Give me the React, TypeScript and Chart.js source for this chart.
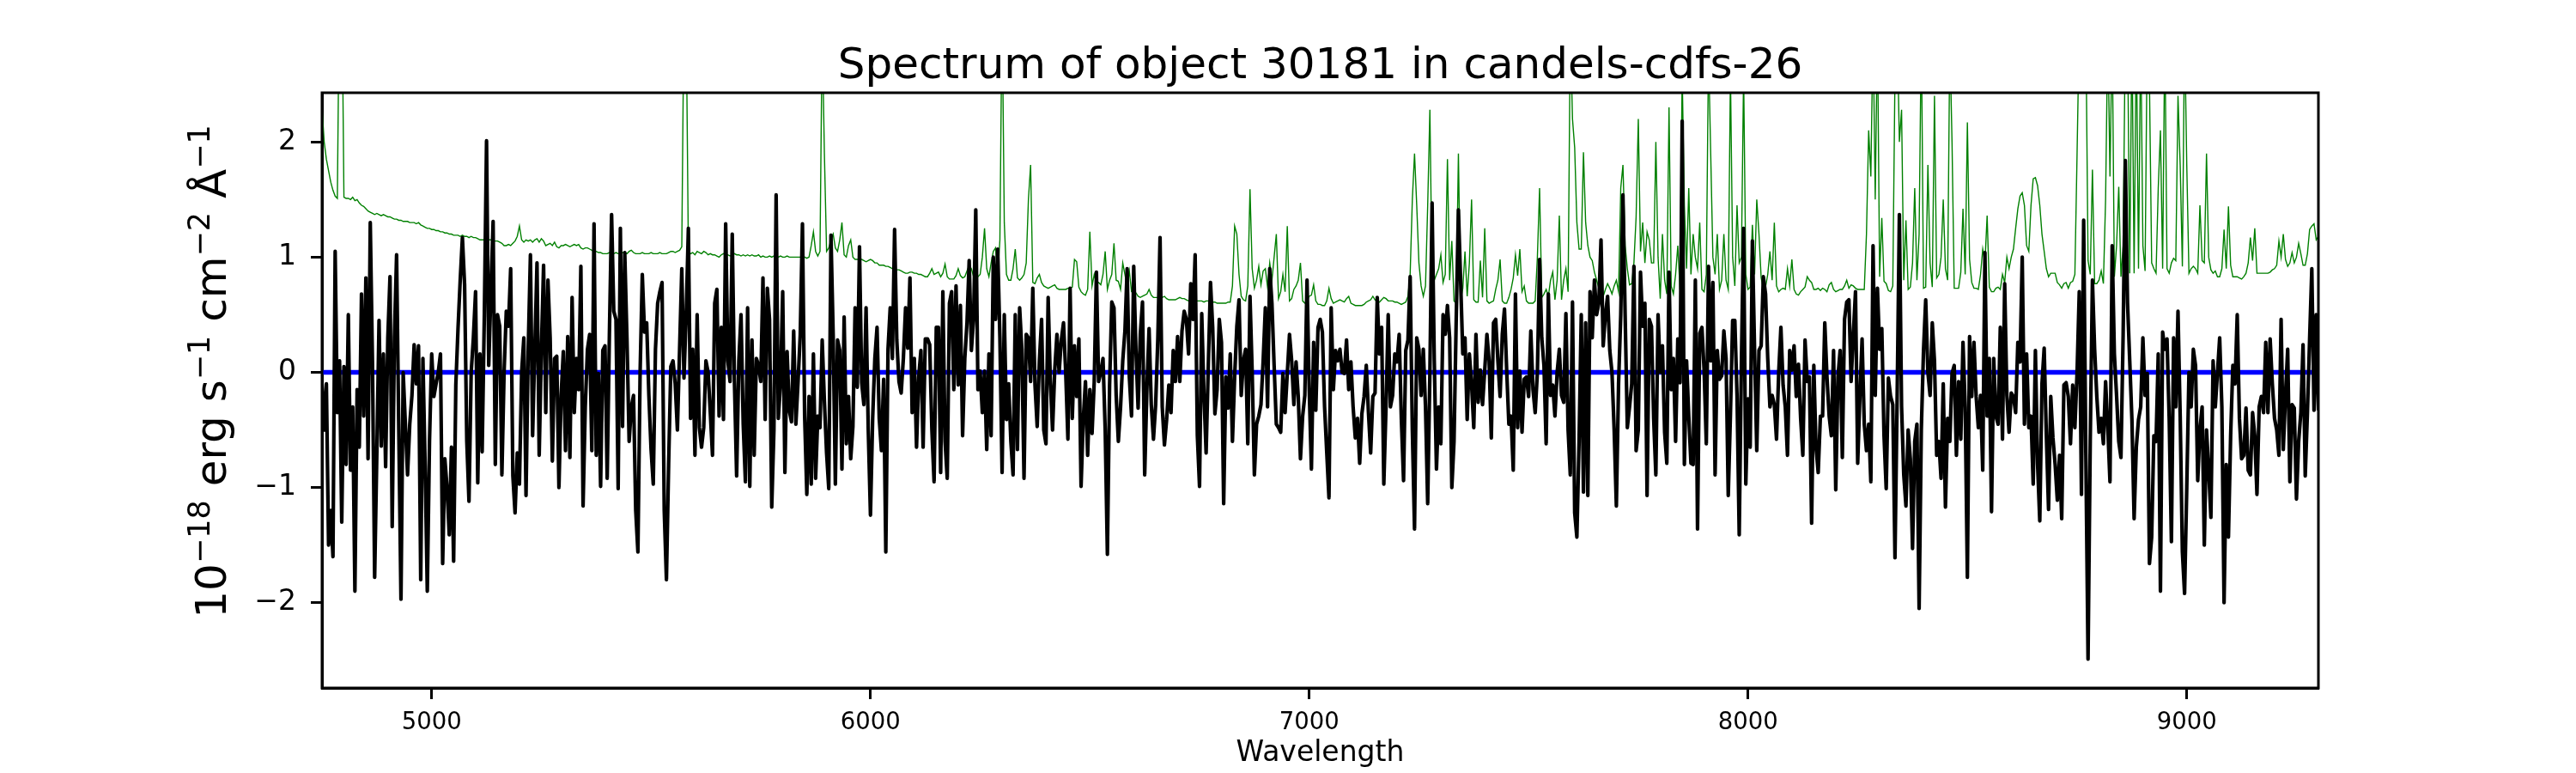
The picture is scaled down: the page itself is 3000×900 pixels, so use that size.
import { useEffect, useRef } from "react"
import { Chart, registerables, type Plugin } from "chart.js"

Chart.register(...registerables)

const FONT = "'DejaVu Sans', sans-serif"
const TITLE = "Spectrum of object 30181 in candels-cdfs-26"
const X_LABEL = "Wavelength"

const WAVE_MIN = 4750
const WAVE_MAX = 9300
const WAVE_STEP = 5
const FLUX_MIN = -2.74
const FLUX_MAX = 2.427

const X_TICKS = [5000, 6000, 7000, 8000, 9000]
const Y_TICKS = [-2, -1, 0, 1, 2]

// flux (black) on a 5 A grid, one array per stretch
const FLUX_4750 = [
  -0.1, -0.5, -0.1, -1.5, -1.2, -1.6, 1.05, -0.35, 0.1, -1.3,
  0.05, -0.8, 0.5, -0.85, -0.3, -1.9, -0.15, -0.65, 0.68, -0.38,
  0.82, -0.75, 1.3, 0.1, -1.78, -0.7, 0.45, -0.64, 0.16, -0.82,
  0.3, 0.83, -1.34, 0.3, 1.02, -0.5, -1.97, 0.0, -0.45, -0.89,
  -0.45, -0.2, 0.24, -0.1, 0.23, -1.8, 0.12, -0.8, -1.9, -0.6,
  0.16, -0.21, -0.1, 0.0, 0.16, -1.66, -0.75, -1.0, -1.41, -0.65,
  -1.64, -0.11, 0.38, 0.8, 1.17, 0.76, -0.6, -1.12, 0.0, 0.3,
  0.7, -0.96, 0.16, -0.69, 0.5, 2.01, 0.06, 0.7, 1.31, -0.8,
  0.5, 0.4, -0.89, 0.0, 0.53, 0.4, 0.9, -0.9, -1.22, -0.7,
  -0.97, 0.0, 0.3, -1.07, 0.2, 1.02, -0.55, 0.2, 0.95, -0.72,
  0.2, 0.93, -0.35, 0.8,
]
const FLUX_5270 = [
  0.3, -0.77, 0.12, 0.14, -1.0, -0.2, 0.18, -0.68, 0.31, -0.74,
  0.65, -0.35, 0.12, -0.15, 0.92, -1.16, -0.3, 0.2, 0.33, -0.68,
  1.29, -0.72, -0.01, -0.99, 0.19, 0.23, -0.92, 0.33, 1.37, 0.53,
  0.46, -1.01, 1.25, -0.47, 1.04, 0.3, -0.6, -0.3, -0.2, -1.2,
  -1.56, 0.0, 0.85, 0.35, 0.43, -0.2, -0.67, -0.97, 0.2, 0.6,
  0.7, 0.78, -1.2, -1.8, -0.8, 0.05, 0.1, -0.1, -0.5, 0.2,
  0.9, -0.05, 0.5, 1.25, -0.4, 0.2, -0.72, 0.5, -0.48, -0.65,
  -0.48, 0.1, 0.0, -0.35, -0.72, 0.6, 0.72, -0.38, 0.39, -0.41,
  1.29, 0.1, -0.08, 1.2, -0.08, -0.9, 0.1, 0.5, -0.45, -0.95,
  0.56, -0.99, 0.28, -0.72, 0.12, 0.06, -0.08, 0.82, -0.41, 0.73,
  0.46, -1.17,
]
const FLUX_5780 = [
  -0.5, 1.54, -0.4, -0.1, 0.7, -0.87, 0.18, -0.33, -0.43, 0.36,
  -0.45, -0.08, 0.33, 1.29, -0.38, -1.06, -0.21, -0.97, 0.16, -0.92,
  -0.38, -0.48, 0.28, -0.25, -0.7, -1.01, 1.19, 0.33, -0.97, 0.28,
  0.19, -0.84, 0.48, -0.62, -0.21, -0.75, -0.47, 0.56, -0.13, 1.09,
  -0.09, -0.28, 0.56, -0.5, -1.24, -0.4, 0.12, 0.39, -0.4, -0.68,
  -0.06, -1.56, 0.2, 0.56, 0.12, 1.24, 0.28, -0.08, -0.18, 0.12,
  0.56, 0.21, 0.82, -0.35, 0.12, -0.65, -0.04, 0.19, -0.65, 0.29,
  0.29, 0.24, -0.5, -0.95, 0.39, 0.39, -0.87, 0.7, -0.6, -0.92,
  0.6, 0.7, -0.15, 0.75, -0.11, 0.58, -0.55, 0.12, 0.43, 0.97,
  0.19, 0.46, 1.41, -0.15, 0.01, -0.35, 0.01, -0.67, 0.16, -0.55,
  1.0, 0.46, 1.07, 0.3, -0.87, 0.5, -0.41, -0.1, -0.6, -0.89,
  0.5, -0.67, 0.56, 0.2, -0.92, 0.33, 0.3,
]
const FLUX_6365 = [
  -0.08, 0.73, -0.11, -0.47, 0.1, 0.46, -0.5, -0.62, 0.65, -0.08,
  -0.5, 0.02, 0.33, 0.0, 0.28, 0.43, 0.0, -0.58, 0.73, -0.4,
  0.23, -0.21, 0.29, -0.99, -0.41, -0.08, -0.72, -0.15, -0.53, -0.08,
  0.87, -0.08, 0.0, 0.12, -0.5, -1.58, -0.11, 0.61, 0.56, -0.2,
  -0.6, -0.3, 0.1, 0.36, 0.9, -0.04, -0.38, 0.92, 0.2, -0.31,
  0.33, 0.61, -0.89, -0.15, 0.38, -0.28, -0.58, -0.28, 0.3, 1.17,
  -0.3, -0.63, -0.41, -0.11, -0.35, 0.19, -0.08, 0.31, -0.08, 0.36,
  0.53, 0.46, 0.16, 0.77, 0.46, 1.02, -0.55, -0.99, 0.51, -0.18,
  -0.7, 0.06, 0.78, 0.39, -0.36, -0.15, 0.46, 0.26, -1.14, -0.04,
  -0.31, 0.16, -0.6, -0.04, 0.4, 0.63,
]
const FLUX_6845 = [
  -0.2, 0.1, 0.2, -0.62, 0.66, 0.0, -0.89, -0.45, -0.38, -0.28,
  0.1, 0.56, -0.3, 0.9, 0.6, 0.06, -0.45, -0.48, -0.52, -0.01,
  -0.35, -0.01, 0.33, 0.1, -0.28, 0.09, -0.21, -0.75, -0.38, -0.2,
  0.8, -0.15, -0.84, 0.26, -0.33, 0.39, 0.46, 0.35, -0.3, -0.7,
  -1.09, 0.56, -0.15, 0.19, 0.1, 0.2, 0.0, -0.01, 0.28, -0.15,
  0.09, -0.3, -0.57, -0.4, -0.79, -0.36, -0.21, 0.06, -0.35, -0.7,
  -0.21, -0.18, 0.65, 0.16, 0.39, -0.97, -0.3, 0.5, -0.3, -0.2,
  0.16, 0.09, 0.33, -0.41, -0.94, 0.19, 0.28, 0.83, -0.5, -1.36,
  0.3, 0.2, -0.2, 0.2, -0.3, -1.14, 0.0, 1.47, 0.1, -0.84,
  -0.3, -0.62, 0.5, 0.33, 0.58, 0.3,
]
const FLUX_7325 = [
  -1.0, -0.6, 0.46, 1.41, 0.8, 0.16, 0.3, -0.41, 0.16, -0.1,
  -0.48, 0.33, -0.26, 0.02, -0.28, 0.02, 0.33, 0.1, -0.57, 0.43,
  0.46, 0.1, -0.21, 0.33, 0.55, 0.02, -0.45, -0.38, -0.85, 0.68,
  -0.48, 0.01, -0.52, -0.06, -0.04, -0.21, 0.36, -0.15, -0.35, 0.0,
  0.98, 0.3, 0.06, -0.62, 0.68, -0.2, -0.11, -0.38, 0.0, 0.2,
  -0.2, -0.26, 0.51, -0.5, -0.89, 0.61, -1.22, -1.43, -0.6, 0.5,
  -1.04, 0.43, -1.07, 0.7, 0.3, 0.8, 0.5, 0.6, 1.15, 0.23,
  0.5, 0.66, 0.19, 0.0, -0.5, -1.16, -0.1, 0.5, 1.54, 0.5,
  -0.48, -0.3, -0.1, 0.92, -0.68, -0.5, 0.87, 0.4, 0.6, -1.07,
  0.46, 0.4, -0.4, -0.89, 0.5, 0.0,
]
const FLUX_7805 = [
  0.23, -0.52, -0.79, 0.87, -0.15, 0.12, -0.6, 0.29, -0.09, 2.18,
  -0.8, 0.1, -0.38, -0.79, -0.8, 0.8, -1.36, 0.34, 0.39, 0.02,
  -0.62, 0.92, 0.1, 0.78, -0.89, 0.19, -0.06, -0.03, 0.36, 0.12,
  -1.07, -0.36, 0.45, 0.45, -0.2, -1.41, 0.1, 1.25, -0.97, -0.23,
  -0.65, 1.14, 0.19, -0.68, 0.19, 0.23, 0.83, 0.68, 0.12, -0.3,
  -0.2, -0.28, -0.58, 0.0, 0.39, -0.11, -0.3, -0.72, 0.19, 0.02,
  0.23, -0.21, 0.07, -0.4, -0.72, 0.28, -0.08, -0.04, -1.31, 0.06,
  -0.65, -0.87, -0.38, -0.38, 0.43, -0.04, -0.38, -0.55, 0.19, -1.02,
  -0.04, 0.19, -0.74, 0.46, 0.61, 0.63, -0.08, 0.33, 0.7, -0.79,
  -0.21, 0.29, -0.45, -0.68, -0.45, -0.95,
]
const FLUX_8285 = [
  1.1, -0.2, 0.73, 0.2, 0.38, -0.55, -1.01, -0.05, -0.21, -0.28,
  -1.61, -0.2, 1.37, -0.3, -0.89, -1.16, -0.5, -0.75, -1.53, -0.6,
  -0.45, -2.05, -0.5, 0.19, 0.63, 0.0, -0.2, 0.43, 0.1, -0.72,
  -0.6, -0.92, -0.1, -1.17, -0.4, -0.6, -0.01, 0.06, -0.72, -0.08,
  -0.58, 0.26, -0.3, -1.78, 0.31, -0.21, 0.26, -0.21, -0.48, -0.2,
  -0.85, 1.04, -0.38, 0.12, -1.21, 0.12, -0.38, -0.45, 0.39, -0.58,
  0.77, -0.2, -0.52, -0.18, -0.21, -0.35, 0.26, 0.09, 1.0, -0.45,
  0.16, -0.48, -0.38, -0.97, 0.19, -0.8, -1.29, -0.1, 0.21, -0.55,
  -1.19, -0.21, -0.57, -0.8, -1.11, -0.72, -1.27, -0.11, -0.09, -0.21,
  -0.62, -0.11, -0.48, 0.0, 0.7, -1.06,
]
const FLUX_8765 = [
  1.32, -0.72, -2.49, -0.6, 0.8, 0.2, -0.21, -0.52, -0.4, -0.62,
  -0.08, -0.48, -0.95, 1.1, 0.16, -0.2, -0.6, -0.74, 0.33, 1.84,
  0.6, 0.1, -0.41, -1.27, -0.65, -0.41, -0.3, 0.3, -0.2, -0.01,
  -1.66, -1.43, -0.55, -0.6, 0.16, -1.9, 0.35, 0.2, 0.29, -0.41,
  -1.47, 0.3, -0.3, 0.53, -0.38, -1.56, -1.92, -1.0, 0.0, -0.3,
  0.2, 0.06, -0.94, -0.5, -0.3, -1.5, -0.5, -0.85, -1.26, 0.1,
  -0.3, 0.0, 0.3, -0.3, -2.0, -0.8, -1.43, -0.55, 0.06, -0.1,
  0.5, -0.4, -0.75, -0.72, -0.31, -0.85, -0.89, -0.35, -0.55, -1.06,
  -0.3, -0.21, -0.35, 0.26, -0.35, 0.29, -0.1, -0.4, -0.5, -0.72,
  0.46, -0.67, -0.2, 0.2, -0.95, -0.28, -0.31, -1.1, -0.6, -0.35,
  0.24, -0.9, -0.35, 0.29, 0.9, -0.33, 0.5, -0.33,
]

// error spectrum (green), same grid; sky lines run off the top
const ERR_4750 = [
  2.3, 2.0, 1.85, 1.75, 1.65, 1.58, 1.53, 1.51, 3.5, 3.5,
  1.52, 1.51, 1.51, 1.5, 1.52, 1.49, 1.5, 1.47, 1.45, 1.44,
  1.42, 1.4, 1.39, 1.38, 1.37, 1.38, 1.37, 1.36, 1.37, 1.36,
  1.35, 1.35, 1.34, 1.33, 1.33, 1.32, 1.32, 1.31, 1.31, 1.31,
  1.3, 1.3, 1.3, 1.29, 1.3, 1.28, 1.27, 1.26, 1.25, 1.25,
  1.24, 1.24, 1.23, 1.23, 1.22, 1.22, 1.21, 1.21, 1.2, 1.2,
  1.19, 1.19, 1.19, 1.18, 1.19, 1.18, 1.18, 1.17, 1.18, 1.17,
  1.17, 1.16, 1.15, 1.15, 1.15, 1.15, 1.15, 1.15, 1.14, 1.14,
  1.14, 1.13, 1.12, 1.1, 1.1, 1.11, 1.1, 1.12, 1.14, 1.18,
  1.27, 1.15, 1.13, 1.15, 1.14, 1.15, 1.13, 1.15, 1.16, 1.13,
  1.16, 1.14, 1.1, 1.11,
]
const ERR_5270 = [
  1.12, 1.1, 1.13, 1.09, 1.08, 1.1, 1.1, 1.11, 1.1, 1.09, 1.1,
  1.11, 1.1, 1.11, 1.08, 1.07, 1.08, 1.08, 1.07, 1.06, 1.05,
  1.05, 1.04, 1.04, 1.03, 1.03, 1.03, 1.04, 1.03, 1.03, 1.04,
  1.03, 1.03, 1.04, 1.04, 1.03, 1.05, 1.06, 1.04, 1.03, 1.03,
  1.03, 1.04, 1.03, 1.03, 1.03, 1.04, 1.03, 1.03, 1.03, 1.04,
  1.03, 1.03, 1.03, 1.04, 1.05, 1.05, 1.04, 1.05, 1.06, 1.09,
  3.2, 3.1,
  1.05, 1.03, 1.04, 1.02, 1.05, 1.04, 1.03, 1.05, 1.04, 1.02,
  1.03, 1.02, 1.02, 1.01, 1.0, 1.02, 1.03, 1.02, 1.02, 1.01,
  1.02, 1.03, 1.02, 1.02, 1.01, 1.02, 1.01, 1.02, 1.01, 1.02,
  1.01, 1.01, 1.02, 1.0, 1.01, 1.0, 1.0, 1.01, 1.0,
]
const ERR_5780 = [
  1.01, 1.01, 1.0, 1.01, 1.0, 1.0, 1.01, 1.0, 1.0, 1.0,
  1.0, 1.0, 1.0, 0.99, 1.0, 0.99, 1.0, 1.1, 1.22, 1.05,
  1.01, 1.05, 3.0, 1.9, 1.05, 1.08, 1.15, 1.2, 1.08, 1.05,
  1.15, 1.3, 1.02, 1.0, 1.1, 1.15, 1.0, 0.98, 0.98, 0.98,
  0.98, 0.97, 0.96, 0.97, 0.98, 0.97, 0.95, 0.95, 0.93, 0.93,
  0.93, 0.92, 0.92, 0.91, 0.9, 0.9, 0.89, 0.89, 0.88, 0.87,
  0.86, 0.86, 0.87, 0.87, 0.86, 0.86, 0.85, 0.85, 0.84, 0.83,
  0.83, 0.86, 0.9, 0.85, 0.86, 0.87, 0.83, 0.86, 0.94, 0.83,
  0.81, 0.81, 0.81, 0.84, 0.9, 0.84, 0.82, 0.83, 0.88, 0.93,
  0.9, 0.83, 0.86, 0.83, 0.85, 1.0, 1.25, 0.9, 0.83, 0.95,
  1.05, 1.08, 0.83, 1.15, 3.2, 1.3, 0.85, 0.8, 0.8, 0.9,
  1.07, 0.82, 0.8, 0.82, 0.85, 0.95, 1.5,
]
const ERR_6365 = [
  1.8, 0.78, 0.77, 0.82, 0.85, 0.78, 0.75, 0.74, 0.73, 0.74,
  0.75, 0.76, 0.73, 0.72, 0.72, 0.72, 0.72, 0.73, 0.73, 0.74,
  0.98, 0.96, 0.74, 0.7, 0.68, 0.67, 0.72, 1.22, 0.75, 0.85,
  0.77, 0.78, 0.76, 0.85, 1.05, 0.72, 0.8, 0.85, 1.12, 0.8,
  0.79, 0.72, 0.95, 0.85, 0.74, 0.88, 0.7, 0.7, 0.69, 0.66,
  0.65, 0.66, 0.67, 0.68, 0.72, 0.67, 0.65, 0.65, 0.65, 0.64,
  0.65, 0.66, 0.64, 0.63, 0.63, 0.63, 0.63, 0.64, 0.65, 0.64,
  0.64, 0.63, 0.62, 0.62, 0.62, 0.62, 0.62, 0.62, 0.62, 0.61,
  0.62, 0.62, 0.61, 0.61, 0.61, 0.6, 0.6, 0.6, 0.6, 0.6,
  0.61, 0.61, 0.75, 1.27, 1.2, 0.85,
]
const ERR_6845 = [
  0.66, 0.63, 0.62, 0.75, 1.59, 0.9, 0.73, 0.8, 0.92, 0.76,
  0.88, 0.9, 0.74, 0.95, 0.8, 1.0, 1.2, 0.64, 0.7, 0.85,
  0.7, 1.27, 0.62, 0.64, 0.72, 0.75, 0.8, 0.95, 0.62, 0.6,
  0.62, 0.66, 0.67, 0.76, 0.62, 0.59, 0.59, 0.58, 0.58, 0.62,
  0.73, 0.64, 0.6, 0.61, 0.62, 0.63, 0.62, 0.61, 0.64, 0.66,
  0.6, 0.59, 0.58, 0.58, 0.58, 0.58, 0.59, 0.61, 0.62, 0.63,
  0.66, 0.63, 0.61, 0.61, 0.63, 0.65, 0.64, 0.62, 0.62, 0.62,
  0.61, 0.61, 0.6, 0.59, 0.6, 0.61, 0.66, 0.85, 1.5, 1.9,
  1.45, 0.95, 0.75, 0.66, 0.75, 1.45, 2.28, 0.8, 0.8, 0.85,
  0.9, 1.02, 0.78, 0.85, 1.85, 0.8,
]
const ERR_7325 = [
  1.14, 0.62, 0.6, 1.9, 0.62, 0.73, 1.05, 0.66, 0.95, 1.5,
  0.63, 0.61, 0.61, 0.97, 0.65, 1.25, 0.62, 0.6, 0.61, 0.62,
  0.72, 0.8, 0.98, 0.62, 0.6, 0.6, 0.65, 0.72, 0.82, 1.02,
  0.84, 1.07, 0.7, 0.75, 0.62, 0.6, 0.6, 0.6, 0.62, 1.0,
  1.6, 0.65, 0.68, 0.72, 0.66, 0.8, 0.87, 0.63, 0.8, 1.36,
  0.63, 0.8, 0.9, 0.7, 3.0, 2.2, 1.95, 1.3, 1.07, 1.07,
  1.91, 1.3, 1.1, 1.0, 0.97, 0.87, 0.8, 0.73, 0.65, 0.66,
  0.72, 0.77, 0.73, 0.68, 0.75, 0.8, 0.7, 1.6, 1.8, 1.1,
  0.9, 0.76, 0.77, 0.95, 1.35, 2.2, 1.05, 1.3, 0.95, 1.22,
  1.15, 0.95, 0.95, 2.0, 1.0, 0.64,
]
const ERR_7805 = [
  1.2, 0.8, 0.68, 2.3, 0.75, 0.68, 0.85, 1.1, 0.72, 2.6,
  1.45, 0.9, 1.6, 0.85, 1.2, 1.0, 0.9, 1.3, 0.72, 0.7,
  0.85, 2.8, 1.9, 1.0, 0.85, 1.2, 0.72, 0.8, 1.2, 0.8,
  0.72, 2.6, 1.0, 0.75, 1.45, 0.95, 1.0, 2.6, 0.85, 0.72,
  0.74, 1.28, 0.85, 1.5, 1.2, 0.82, 0.72, 0.74, 0.85, 1.05,
  0.8, 1.3, 0.75, 0.7, 0.72, 0.73, 0.72, 0.9, 0.75, 0.98,
  0.72, 0.68, 0.67, 0.7, 0.72, 0.74, 0.83, 0.8, 0.78, 0.72,
  0.72, 0.73, 0.71, 0.73, 0.72, 0.7, 0.76, 0.78, 0.72, 0.7,
  0.71, 0.72, 0.72, 0.75, 0.8, 0.73, 0.76, 0.75, 0.73, 0.72,
  0.72, 0.72, 0.72, 1.2, 2.1, 1.7,
]
const ERR_8285 = [
  3.0, 1.5, 3.0, 0.83, 1.34, 0.79, 0.77, 0.71, 0.7, 0.75,
  2.6, 3.0, 2.0, 2.28, 0.8, 1.32, 0.72, 0.74, 0.95, 1.6,
  0.8, 1.2, 3.0, 0.73, 0.74, 1.8, 0.95, 0.74, 2.4, 0.82,
  0.85, 1.0, 1.5, 0.9, 0.8, 2.9, 2.0, 0.73, 0.73, 0.73,
  0.87, 1.42, 0.85, 2.17, 0.98, 0.78, 0.73, 0.73, 0.72, 0.85,
  1.07, 0.95, 1.36, 0.74, 0.7, 0.7, 0.73, 0.74, 0.72, 0.85,
  0.78, 1.0, 0.9, 1.0, 1.07, 1.25, 1.42, 1.53, 1.56, 1.45,
  1.1, 1.05, 1.45, 1.68, 1.69, 1.62, 1.45, 1.2, 1.05, 0.9,
  0.83, 0.86, 0.86, 0.86, 0.78, 0.76, 0.73, 0.77, 0.78, 0.73,
  0.78, 0.79, 0.85, 1.9, 3.0, 3.0,
]
const ERR_8765 = [
  3.0, 3.0, 0.97, 0.85, 1.76, 0.77, 0.77, 0.8, 0.88, 0.77,
  1.5, 3.0, 1.7, 3.0, 0.83, 1.1, 1.61, 0.83, 1.1, 3.0,
  3.0, 0.86, 3.0, 0.86, 3.0, 0.9, 3.0, 1.1, 0.88, 3.0,
  2.5, 0.95, 0.9, 0.86, 1.6, 2.1, 0.9, 3.0, 0.9, 0.86,
  0.95, 0.99, 0.97, 2.4, 1.8, 0.92, 3.0, 1.8, 0.86, 0.9,
  0.92, 0.9, 0.86, 1.45, 0.97, 0.95, 1.9, 1.0, 0.89, 0.86,
  0.88, 0.83, 0.83, 0.9, 1.24, 0.9, 1.44, 0.93, 0.83, 0.83,
  0.83, 0.82, 0.81, 0.83, 0.86, 0.95, 1.17, 0.97, 1.25, 0.86,
  0.86, 0.86, 0.86, 0.86, 0.86, 0.87, 0.89, 0.9, 0.93, 1.14,
  1.0, 1.2, 0.98, 0.92, 0.95, 1.04, 0.95, 1.0, 1.12, 1.03,
  0.93, 0.93, 1.03, 1.24, 1.27, 1.29, 1.15, 1.18,
]

const FLUX_SEGMENTS: [number, number[]][] = [
  [4750, FLUX_4750], [5270, FLUX_5270], [5780, FLUX_5780],
  [6365, FLUX_6365], [6845, FLUX_6845], [7325, FLUX_7325],
  [7805, FLUX_7805], [8285, FLUX_8285], [8765, FLUX_8765],
]
const ERR_SEGMENTS: [number, number[]][] = [
  [4750, ERR_4750], [5270, ERR_5270], [5780, ERR_5780],
  [6365, ERR_6365], [6845, ERR_6845], [7325, ERR_7325],
  [7805, ERR_7805], [8285, ERR_8285], [8765, ERR_8765],
]

function toPoints(segments: [number, number[]][]) {
  const pts: { x: number; y: number }[] = []
  for (const [start, values] of segments) {
    values.forEach((v, i) => pts.push({ x: start + i * WAVE_STEP, y: v }))
  }
  return pts
}

// y label pieces: [text, superscript?]
const Y_LABEL: [string, boolean][] = [
  ["10", false], ["\u221218", true], [" erg s", false], ["\u22121", true],
  [" cm", false], ["\u22122", true], [" \u00c5", false], ["\u22121", true],
]

const mplDecor: Plugin<"line"> = {
  id: "mplDecor",
  afterDatasetsDraw(chart) {
    const { ctx, chartArea: a } = chart
    ctx.save()
    ctx.strokeStyle = "#000"
    ctx.lineWidth = 3
    ctx.strokeRect(a.left, a.top, a.right - a.left, a.bottom - a.top)
    ctx.restore()
  },
  afterDraw(chart) {
    const { ctx, chartArea: a } = chart
    const cx = (a.left + a.right) / 2
    ctx.save()
    ctx.fillStyle = "#000"
    ctx.textAlign = "center"
    ctx.textBaseline = "alphabetic"
    ctx.font = `50px ${FONT}`
    ctx.fillText(TITLE, cx, a.top - 17)
    ctx.font = `33px ${FONT}`
    ctx.fillText(X_LABEL, cx, a.bottom + 85)

    const base = 50
    const sup = base * 0.7
    const parts = Y_LABEL.map(([t, s]) => {
      ctx.font = `${s ? sup : base}px ${FONT}`
      return { t, s, w: ctx.measureText(t).width }
    })
    const total = parts.reduce((acc, p) => acc + p.w, 0)
    ctx.translate(263, (a.top + a.bottom) / 2 - 22)
    ctx.rotate(-Math.PI / 2)
    ctx.textAlign = "left"
    let x = -total / 2
    for (const p of parts) {
      ctx.font = `${p.s ? sup : base}px ${FONT}`
      ctx.fillText(p.t, x, p.s ? -19 : 0)
      x += p.w
    }
    ctx.restore()
  },
}

export default function App() {
  const canvasRef = useRef<HTMLCanvasElement>(null)
  const chartRef = useRef<Chart | null>(null)

  useEffect(() => {
    if (!canvasRef.current) return
    if (chartRef.current) chartRef.current.destroy()

    chartRef.current = new Chart(canvasRef.current, {
      type: "line",
      data: {
        datasets: [
          {
            label: "flux",
            data: toPoints(FLUX_SEGMENTS),
            borderColor: "#000000",
            borderWidth: 4.2,
            borderJoinStyle: "round",
            pointRadius: 0,
            tension: 0,
          },
          {
            label: "error",
            data: toPoints(ERR_SEGMENTS),
            borderColor: "#008000",
            borderWidth: 1.4,
            pointRadius: 0,
            tension: 0,
          },
          {
            label: "zero",
            data: [{ x: WAVE_MIN, y: 0 }, { x: WAVE_MAX, y: 0 }],
            borderColor: "#0000ff",
            borderWidth: 5.5,
            pointRadius: 0,
          },
        ],
      },
      options: {
        animation: false,
        responsive: false,
        devicePixelRatio: 1,
        layout: { padding: { left: 0, top: 108, right: 300, bottom: 0 } },
        plugins: {
          legend: { display: false },
          title: { display: false },
          tooltip: { enabled: false },
        },
        scales: {
          x: {
            type: "linear",
            min: WAVE_MIN,
            max: WAVE_MAX,
            afterBuildTicks: (s) => { s.ticks = X_TICKS.map((v) => ({ value: v })) },
            afterFit: (s) => { s.height = 99 },
            grid: { drawOnChartArea: false, tickLength: 13, tickWidth: 3, tickColor: "#000" },
            border: { display: true, color: "#000", width: 3 },
            ticks: {
              color: "#000",
              font: { family: FONT, size: 27.5 },
              padding: 11,
              maxRotation: 0,
              callback: (v) => String(v),
            },
          },
          y: {
            type: "linear",
            min: FLUX_MIN,
            max: FLUX_MAX,
            afterBuildTicks: (s) => { s.ticks = Y_TICKS.map((v) => ({ value: v })) },
            afterFit: (s) => { s.width = 375 },
            grid: { drawOnChartArea: false, tickLength: 13, tickWidth: 3, tickColor: "#000" },
            border: { display: true, color: "#000", width: 3 },
            ticks: {
              color: "#000",
              font: { family: FONT, size: 33 },
              padding: 17,
              callback: (v) => (Number(v) < 0 ? "\u2212" + Math.abs(Number(v)) : String(v)),
            },
          },
        },
      },
      plugins: [mplDecor],
    })

    return () => {
      if (chartRef.current) {
        chartRef.current.destroy()
        chartRef.current = null
      }
    }
  }, [])

  return (
    <div style={{ position: "fixed", left: 0, top: 0, width: 3000, height: 900, background: "#fff" }}>
      <canvas ref={canvasRef} width={3000} height={900} style={{ display: "block" }} />
    </div>
  )
}
